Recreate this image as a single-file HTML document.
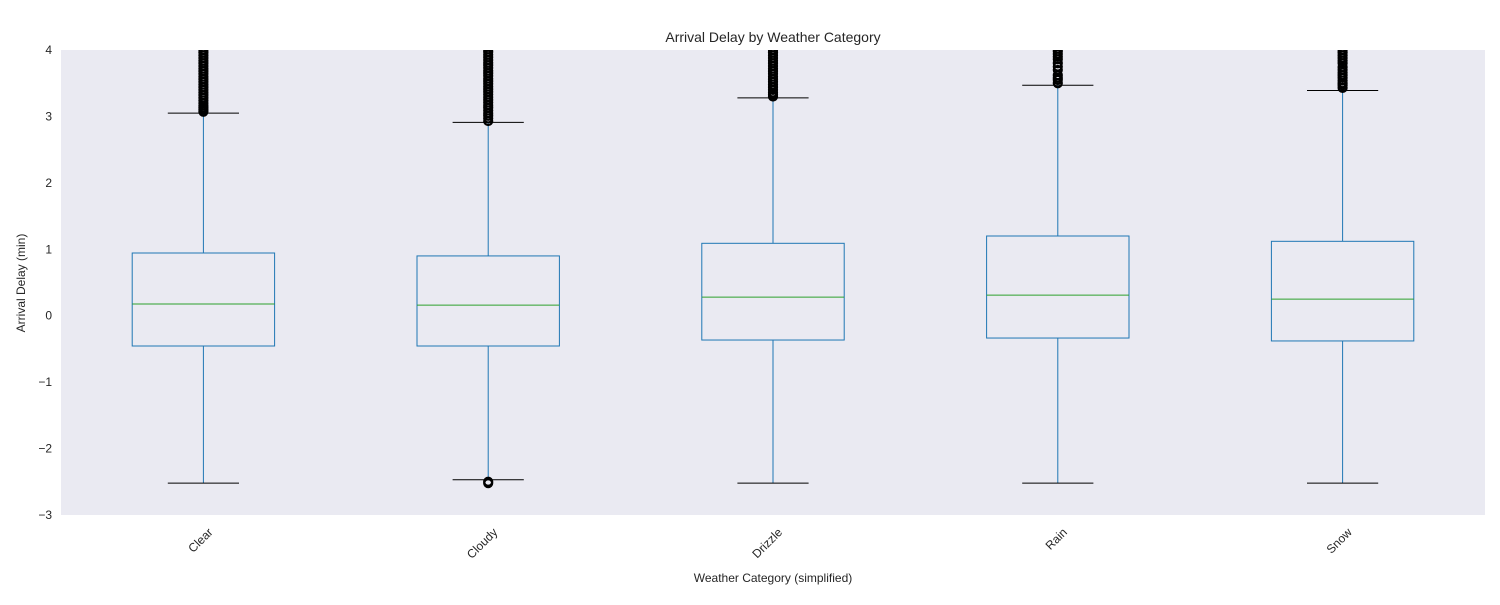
<!DOCTYPE html>
<html><head><meta charset="utf-8"><style>
body{margin:0;background:#fff;}
svg{font-family:"Liberation Sans","DejaVu Sans",sans-serif;}
</style></head><body>
<svg width="1500" height="600" viewBox="0 0 1500 600" id="chart">
<defs><clipPath id="clip"><rect x="61" y="50" width="1424" height="465"/></clipPath></defs>
<rect x="61" y="50" width="1424" height="465" fill="#eaeaf2"/>
<text x="773" y="42" font-size="14" text-anchor="middle" fill="#262626">Arrival Delay by Weather Category</text>
<text x="773" y="582" font-size="12" text-anchor="middle" fill="#262626">Weather Category (simplified)</text>
<text transform="translate(25,283) rotate(-90)" font-size="12" text-anchor="middle" fill="#262626">Arrival Delay (min)</text>
<g id="yticks"></g><g id="xticks"></g><g id="boxes" clip-path="url(#clip)"></g>
</svg>
<script>
const categories=["Clear","Cloudy","Drizzle","Rain","Snow"];
const whiskerLow=[-2.52,-2.47,-2.52,-2.52,-2.52];
const q1=[-0.456,-0.456,-0.366,-0.336,-0.38];
const medians=[0.176,0.16,0.28,0.31,0.25];
const q3=[0.944,0.90,1.09,1.20,1.12];
const whiskerHigh=[3.05,2.91,3.28,3.47,3.39];
const outliersClear=[3.07,3.1,3.13,3.16,3.2,3.24,3.28,3.32,3.36,3.4,3.44,3.48,3.52,3.56,3.6,3.64,3.68,3.72,3.76,3.8,3.84,3.88,3.92,3.96,4.0,4.04];
const outliersCloudy=[-2.52,-2.5,2.93,2.97,3.01,3.05,3.09,3.13,3.17,3.21,3.25,3.29,3.33,3.37,3.41,3.45,3.49,3.53,3.57,3.61,3.65,3.69,3.73,3.77,3.81,3.85,3.89,3.93,3.97,4.01,4.05];
const outliersDrizzle=[3.3,3.33,3.36,3.4,3.44,3.48,3.52,3.56,3.6,3.64,3.68,3.72,3.76,3.8,3.84,3.88,3.92,3.96,4.0,4.04];
const outliersRain=[3.5,3.55,3.58,3.62,3.7,3.75,3.8,3.86,3.9,3.94,3.98,4.02];
const outliersSnow=[3.43,3.47,3.5,3.54,3.58,3.62,3.66,3.7,3.74,3.8,3.84,3.88,3.92,3.96,4.0,4.04];
const outliers=[outliersClear,outliersCloudy,outliersDrizzle,outliersRain,outliersSnow];
const yTicks=[-3,-2,-1,0,1,2,3,4];
const yTickLabels=["\u22123","\u22122","\u22121","0","1","2","3","4"];
const NS="http://www.w3.org/2000/svg";
const x0=61,x1=1485,y0=50,y1=515,yMin=-3,yMax=4;
const Y=v=>y1-(v-yMin)/(yMax-yMin)*(y1-y0);
const step=(x1-x0)/categories.length;
const X=i=>x0+step*(i+0.5);
function mk(tag,attrs,parent){const e=document.createElementNS(NS,tag);for(const k in attrs)e.setAttribute(k,attrs[k]);parent.appendChild(e);return e;}
const yt=document.getElementById('yticks');
yTicks.forEach((v,i)=>{const t=mk('text',{x:52,y:Y(v)+4,'font-size':12,'text-anchor':'end',fill:'#262626'},yt);t.textContent=yTickLabels[i];

});
const xt=document.getElementById('xticks');
categories.forEach((c,i)=>{const t=mk('text',{'font-size':12,'text-anchor':'end',fill:'#262626',transform:`translate(${X(i)+10},${533}) rotate(-45)`},xt);t.textContent=c;

});
const bg=document.getElementById('boxes');
const bw=step*0.5,cw=step*0.25;
categories.forEach((c,i)=>{const g=mk('g',{},bg);


const cx=X(i),blue='#1f77b4';
mk('line',{x1:cx,x2:cx,y1:Y(whiskerLow[i]),y2:Y(q1[i]),stroke:blue,'stroke-width':1},g);
mk('line',{x1:cx,x2:cx,y1:Y(q3[i]),y2:Y(whiskerHigh[i]),stroke:blue,'stroke-width':1},g);
mk('line',{x1:cx-cw/2,x2:cx+cw/2,y1:Y(whiskerLow[i]),y2:Y(whiskerLow[i]),stroke:'#000','stroke-width':1},g);
mk('line',{x1:cx-cw/2,x2:cx+cw/2,y1:Y(whiskerHigh[i]),y2:Y(whiskerHigh[i]),stroke:'#000','stroke-width':1},g);
mk('rect',{x:cx-bw/2,y:Y(q3[i]),width:bw,height:Y(q1[i])-Y(q3[i]),fill:'none',stroke:blue,'stroke-width':1},g);
mk('line',{x1:cx-bw/2,x2:cx+bw/2,y1:Y(medians[i]),y2:Y(medians[i]),stroke:'#2ca02c','stroke-width':1},g);
outliers[i].forEach(v=>{const o=mk('circle',{cx:cx,cy:Y(v),r:4,fill:'none',stroke:'#000','stroke-width':2.2},g);

});
});
</script>
</body></html>
